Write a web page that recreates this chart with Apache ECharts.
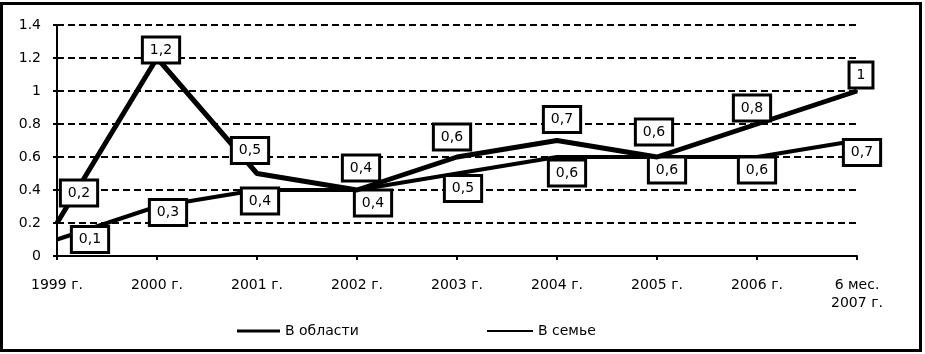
<!DOCTYPE html>
<html>
<head>
<meta charset="utf-8">
<script src="https://cdn.jsdelivr.net/npm/echarts@6/dist/echarts.min.js"></script>
<style>
html,body{margin:0;padding:0;background:#fff;}
#frame{position:absolute;left:0;top:2px;width:922px;height:350px;border:3px solid #000;box-sizing:border-box;}
#chart{position:absolute;left:0;top:0;width:925px;height:354px;}
</style>
</head>
<body>
<div id="frame"></div>
<div id="chart"></div>
<script>
const categories = ['1999 г.', '2000 г.', '2001 г.', '2002 г.', '2003 г.', '2004 г.', '2005 г.', '2006 г.', '6 мес.\n2007 г.'];
const seriesNames = ['В области', 'В семье'];
const regionValues = [0.2, 1.2, 0.5, 0.4, 0.6, 0.7, 0.6, 0.8, 1];
const familyValues = [0.1, 0.3, 0.4, 0.4, 0.5, 0.6, 0.6, 0.6, 0.7];
const yTicks = { min: 0, max: 1.4, interval: 0.2 };

// label placement (layout only)
const regionLabelShift = [[22,-30],[4,-8],[-7,-23],[4,-22],[-5,-20],[5,-21],[-3,-25],[-5,-16],[4,-16]];
const familyLabelShift = [[33,0],[11,6],[3,11],[16,13],[6,15],[10,16],[10,13],[0,13],[5,12]];

const FONT = 'DejaVu Sans';
const labelBase = {
  show: true,
  position: 'inside',
  fontFamily: FONT,
  fontSize: 14,
  color: '#000',
  backgroundColor: '#fff',
  borderColor: '#000',
  borderWidth: 3,
  padding: [4, 6, 3, 6],
  lineHeight: 16,
  formatter: p => String(p.value).replace('.', ',')
};

function buildData(values, shifts) {
  return values.map((v, i) => ({
    value: v,
    label: { offset: shifts[i] }
  }));
}

const chart = echarts.init(document.getElementById('chart'), null, { renderer: 'canvas' });
chart.setOption({
  animation: false,
  backgroundColor: 'transparent',
  grid: { left: 57, right: 68, top: 25, bottom: 98 },
  legend: [
    {
      data: [seriesNames[0]], left: 232, top: 319, icon: 'rect', itemWidth: 43, itemHeight: 3,
      textStyle: { fontFamily: FONT, fontSize: 14, color: '#000' }, itemGap: 0
    },
    {
      data: [seriesNames[1]], left: 482, top: 319, icon: 'rect', itemWidth: 46, itemHeight: 2,
      textStyle: { fontFamily: FONT, fontSize: 14, color: '#000' }, itemGap: 0
    }
  ],
  xAxis: {
    type: 'category',
    data: categories,
    boundaryGap: false,
    axisLine: { lineStyle: { color: '#000', width: 2 } },
    axisTick: { show: true, length: 4, lineStyle: { color: '#000', width: 2 } },
    axisLabel: { color: '#000', fontFamily: FONT, fontSize: 14, margin: 20, lineHeight: 18, interval: 0 },
    splitLine: { show: false }
  },
  yAxis: {
    type: 'value',
    min: yTicks.min, max: yTicks.max, interval: yTicks.interval,
    axisLine: { show: true, lineStyle: { color: '#000', width: 2 } },
    axisTick: { show: true, length: 4, lineStyle: { color: '#000', width: 2 } },
    axisLabel: { color: '#000', fontFamily: FONT, fontSize: 14, margin: 16,
      formatter: v => String(Math.round(v * 10) / 10) },
    splitLine: { show: true, lineStyle: { color: '#000', width: 2, type: [7, 4] } }
  },
  series: [
    {
      name: seriesNames[0],
      type: 'line',
      data: buildData(regionValues, regionLabelShift),
      symbol: 'circle', symbolSize: 2, showSymbol: true,
      itemStyle: { color: '#000' },
      lineStyle: { color: '#000', width: 5 },
      label: labelBase,
      z: 3
    },
    {
      name: seriesNames[1],
      type: 'line',
      data: buildData(familyValues, familyLabelShift),
      symbol: 'circle', symbolSize: 2, showSymbol: true,
      itemStyle: { color: '#000' },
      lineStyle: { color: '#000', width: 4 },
      label: labelBase,
      z: 2
    }
  ]
});
</script>
</body>
</html>
